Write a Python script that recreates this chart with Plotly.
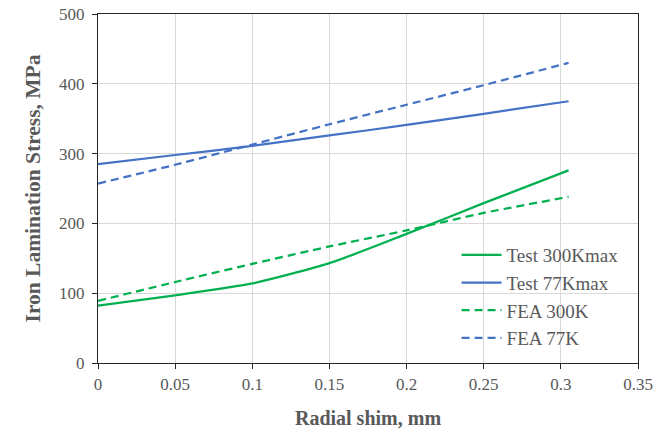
import plotly.graph_objects as go

x_vals = [0, 0.05, 0.1, 0.15, 0.2, 0.25, 0.305]
test_300k = [82, 97, 114, 143, 185, 229, 276]
test_77k = [285, 298, 311, 326, 341, 357, 375]
fea_300k = [89, 116, 142, 167, 190, 215, 238]
fea_77k = [257, 284, 313, 342, 370, 398, 430]

x_ticks = [0, 0.05, 0.1, 0.15, 0.2, 0.25, 0.3, 0.35]
x_tick_text = ["0", "0.05", "0.1", "0.15", "0.2", "0.25", "0.3", "0.35"]
y_ticks = [0, 100, 200, 300, 400, 500]

green = "#00B050"
blue = "#4472C4"
font_fam = "Liberation Serif"
grey = "#595959"

fig = go.Figure()
fig.add_trace(go.Scatter(x=x_vals, y=test_300k, mode="lines", name="Test 300Kmax",
                         line=dict(color=green, width=2.25, shape="spline", smoothing=0.6)))
fig.add_trace(go.Scatter(x=x_vals, y=test_77k, mode="lines", name="Test 77Kmax",
                         line=dict(color=blue, width=2.25, shape="spline", smoothing=0.6)))
fig.add_trace(go.Scatter(x=x_vals, y=fea_300k, mode="lines", name="FEA 300K",
                         line=dict(color=green, width=2.25, dash="8px,5px", shape="spline", smoothing=0.6)))
fig.add_trace(go.Scatter(x=x_vals, y=fea_77k, mode="lines", name="FEA 77K",
                         line=dict(color=blue, width=2.25, dash="8px,5px", shape="spline", smoothing=0.6)))

axis_common = dict(showgrid=True, gridcolor="#D9D9D9", gridwidth=1, showline=True, mirror=True,
                   linecolor="#262626", linewidth=1.3, ticks="outside", ticklen=5,
                   tickcolor="#262626", zeroline=False, automargin=False,
                   tickfont=dict(family=font_fam, size=17, color=grey))

fig.update_layout(
    width=669, height=433,
    margin=dict(l=98, r=31, t=14, b=70),
    paper_bgcolor="white", plot_bgcolor="white",
    font=dict(family=font_fam, color=grey),
    xaxis=dict(range=[0, 0.35], tickvals=x_ticks, ticktext=x_tick_text,
               title=dict(text="<b>Radial shim, mm</b>", font=dict(family=font_fam, size=20, color=grey), standoff=18),
               **axis_common),
    yaxis=dict(range=[0, 500], tickvals=y_ticks,
               title=dict(text="<b>Iron Lamination Stress, MPa</b>", font=dict(family=font_fam, size=21.5, color=grey), standoff=12),
               ticklabelstandoff=4,
               **axis_common),
    legend=dict(x=0.664, y=0.364, xanchor="left", yanchor="top", bgcolor="rgba(0,0,0,0)",
                font=dict(family=font_fam, size=19, color=grey), tracegroupgap=0,
                itemwidth=40),
    showlegend=True,
)

fig.write_html("out.html", config={"displayModeBar": False},
               post_script="document.body.style.margin='0';document.body.style.padding='0';")
